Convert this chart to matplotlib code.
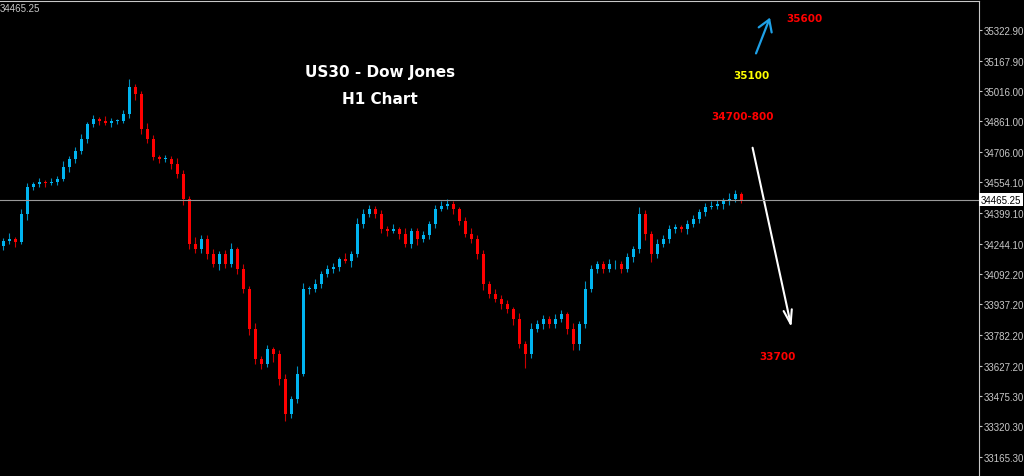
import matplotlib
matplotlib.use("Agg")
import matplotlib.pyplot as plt
from matplotlib.patches import FancyArrowPatch

closes = [34257,34267,34252,34393,34530,34545,34555,34550,34555,34570,34631,34671,34711,34772,34848,34873,34863,34853,34863,34863,
          34898,35035,35000,34823,34772,34681,34671,34671,34646,34595,34469,34242,34216,34267,34191,34140,34191,34140,34216,34115,
          34014,33812,33660,33635,33711,33686,33560,33383,33458,33585,34014,34014,34039,34090,34115,34125,34166,34156,34191,34343,
          34393,34418,34393,34317,34307,34317,34292,34242,34307,34267,34287,34343,34418,34433,34443,34418,34358,34292,34267,34191,
          34039,33989,33964,33938,33913,33863,33736,33686,33812,33837,33863,33837,33863,33888,33812,33736,33837,34014,34115,34140,
          34115,34140,34140,34115,34176,34216,34393,34292,34191,34242,34267,34317,34328,34317,34343,34368,34403,34428,34433,34443,
          34459,34469,34494,34465]
first_open = 34230
up_wick = [15,30,10,25,20,12,18,8,22,14,30,16,20,25,12,18,10,24,14,8,
           20,40,15,12,28,18,10,22,16,30,20,15,35,22,18,26,14,20,30,12,
           25,18,30,15,22,12,20,25,16,40,30,18,26,14,20,22,10,28,16,30,
           25,20,18,22,14,26,12,30,18,16,22,14,20,28,25,16,12,20,30,18,
           22,14,26,18,20,12,28,16,30,22,18,14,26,20,12,30,16,40,22,18,
           14,26,20,16,22,18,35,20,14,26,18,22,16,12,20,18,14,22,26,20,
           16,30,18,12]
low_wick = [20,15,25,12,30,18,14,22,10,16,12,24,18,14,20,16,22,10,18,14,
            12,18,30,26,20,14,22,16,28,18,30,25,20,18,26,14,30,20,16,24,
            18,30,22,26,14,40,28,35,20,18,12,24,16,20,14,18,22,12,30,16,
            20,14,22,18,26,12,24,16,20,30,14,22,18,12,16,24,20,14,18,26,
            30,20,16,24,18,28,22,70,20,14,26,18,22,16,24,30,28,20,16,22,
            18,14,26,20,16,24,18,30,40,20,14,22,18,16,24,14,20,18,12,16,
            22,18,14,16]
yticks = [35322.90,35167.90,35016.00,34861.00,34706.00,34554.10,34399.10,34244.10,
          34092.20,33937.20,33782.20,33627.20,33475.30,33320.30,33165.30]
current = 34465.25

W = 979
fig = plt.figure(figsize=(10.24,4.77), dpi=100, facecolor='black')
ax = fig.add_axes([0, 0, W/1024, 1-2/477])
ax.set_facecolor('black')
opens = [first_open] + closes[:-1]
for i,(o,c) in enumerate(zip(opens, closes)):
    col = '#00b4f0' if c >= o else '#ff0000'
    hi = max(o,c) + up_wick[i]; lo = min(o,c) - low_wick[i]
    ax.vlines(i, lo, hi, color=col, lw=0.8, alpha=0.8)
    ax.bar(i, max(abs(c-o), 3), bottom=min(o,c), width=0.5, color=col, linewidth=0)
ax.set_xlim(-0.5, (W-3)/6)
ax.set_ylim(33070, 35469)
ax.axhline(current, color='#9a9a9a', lw=0.8)
ax.yaxis.tick_right()
ax.set_yticks(yticks)
ax.set_yticklabels([f"{v:.2f}" for v in yticks], color='#c8c8c8', fontsize=7, family='Liberation Sans')
ax.tick_params(axis='y', colors='#c8c8c8', length=2, pad=1.5)
ax.set_xticks([])
for s in ['left','bottom']:
    ax.spines[s].set_visible(False)
for s in ['right','top']:
    ax.spines[s].set_color('#c8c8c8')
ax.text(1.002, (current-33070)/(35469-33070), f"{current:.2f}", transform=ax.transAxes, fontsize=7, family='Liberation Sans',
        color='black', va='center', ha='left', bbox=dict(boxstyle='square,pad=0.15', fc='white', ec='none'))
ax.text(0.0, 0.985, f"{current:.2f}", transform=ax.transAxes, fontsize=7, family='Liberation Sans', color='#c8c8c8', va='center', ha='left')

def px(x, y):
    return (x/W, 1-(y-2)/475)
ax.text(*px(380,72), "US30 - Dow Jones", transform=ax.transAxes, color='white', fontsize=11, fontweight='bold', ha='center', va='center')
ax.text(*px(380,99), "H1 Chart", transform=ax.transAxes, color='white', fontsize=11, fontweight='bold', ha='center', va='center')
ax.text(*px(804,19), "35600", transform=ax.transAxes, color='red', fontsize=7.5, fontweight='bold', ha='center', va='center')
ax.text(*px(751,76), "35100", transform=ax.transAxes, color='yellow', fontsize=7.5, fontweight='bold', ha='center', va='center')
ax.text(*px(743,117), "34700-800", transform=ax.transAxes, color='red', fontsize=7.5, fontweight='bold', ha='center', va='center')
ax.text(*px(777,357), "33700", transform=ax.transAxes, color='red', fontsize=7.5, fontweight='bold', ha='center', va='center')
ax.add_patch(FancyArrowPatch(px(755,57), px(771,16), transform=ax.transAxes, arrowstyle='->,head_length=4,head_width=2.5',
                             color='#1ea0e6', lw=1.6, mutation_scale=2))
ax.add_patch(FancyArrowPatch(px(752,146), px(792,331), transform=ax.transAxes, arrowstyle='->,head_length=10,head_width=3',
                             color='white', lw=1.5, mutation_scale=1))
fig.savefig('out.png', dpi=100, facecolor='black')
